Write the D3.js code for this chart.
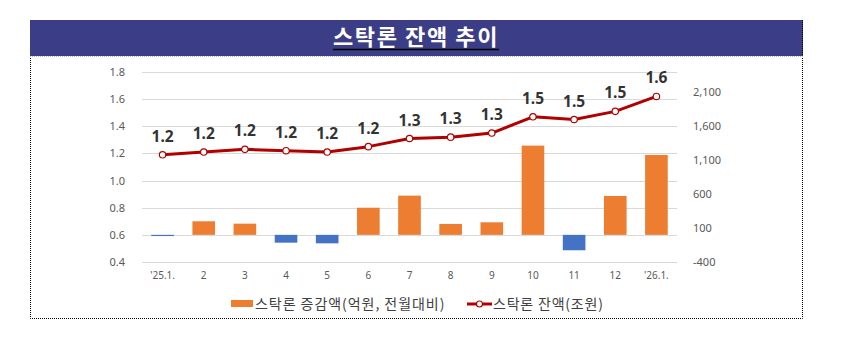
<!DOCTYPE html>
<html><head><meta charset="utf-8">
<script src="https://cdn.jsdelivr.net/npm/d3@7"></script>
<style>
html,body{margin:0;padding:0;background:#fff;}
svg{display:block;font-family:"Noto Sans CJK KR","Noto Sans",sans-serif;}
</style></head>
<body><svg id="c" width="847" height="340"></svg>
<script>
const titleText = "스탁론 잔액 추이";
const categories = ["'25.1.","2","3","4","5","6","7","8","9","10","11","12","'26.1."];
const changeValues = [-15, 200, 165, -115, -125, 400, 578, 161, 185, 1315, -227, 573, 1177];
const balanceValues = [1.19, 1.21, 1.23, 1.22, 1.21, 1.25, 1.31, 1.32, 1.35, 1.47, 1.45, 1.51, 1.62];
const balanceLabels = ["1.2","1.2","1.2","1.2","1.2","1.2","1.3","1.3","1.3","1.5","1.5","1.5","1.6"];
const leftTicks = [0.4, 0.6, 0.8, 1.0, 1.2, 1.4, 1.6, 1.8];
const rightTicks = [-400, 100, 600, 1100, 1600, 2100];
const legendLabels = ["스탁론 증감액(억원, 전월대비)", "스탁론 잔액(조원)"];

const svg = d3.select("#c");
const frame = {x0: 30, x1: 803, top: 20, mid: 56, bottom: 318};

// title bar
svg.append("rect").attr("x", frame.x0).attr("y", frame.top)
  .attr("width", frame.x1 - frame.x0).attr("height", frame.mid - frame.top)
  .attr("fill", "#3B3E86");
const tt = svg.append("text").attr("x", 416).attr("y", 45)
  .attr("text-anchor", "middle").attr("fill", "#fff")
  .attr("font-size", 22).attr("font-weight", "bold").attr("letter-spacing", 1.6).text(titleText);
const tb = tt.node().getBBox();
svg.append("line").attr("x1", tb.x).attr("x2", tb.x + tb.width)
  .attr("y1", 49.5).attr("y2", 49.5).attr("stroke", "#000").attr("stroke-width", 1.6);

// dotted frame
svg.append("path")
  .attr("d", `M${frame.x0+0.5},${frame.mid}V${frame.bottom+0.5}H${frame.x1-0.5}V${frame.top}`)
  .attr("fill", "none").attr("stroke", "#000").attr("stroke-width", 1).attr("stroke-dasharray", "1,1");
svg.append("line").attr("x1", frame.x0).attr("x2", frame.x1).attr("y1", frame.mid+0.5).attr("y2", frame.mid+0.5)
  .attr("stroke", "#bbb").attr("stroke-dasharray", "1,1");

const plot = {left: 142, right: 677, top: 72, bottom: 262};
const x = d3.scaleBand().domain(categories).range([plot.left, plot.right]).paddingInner(0.45).paddingOuter(0.225);
const xc = d => x(d) + x.bandwidth()/2;
const yL = d3.scaleLinear().domain([0.4, 1.8]).range([plot.bottom, plot.top]);
const yR = d3.scaleLinear().domain([-400, 2400]).range([plot.bottom, plot.top]);

// gridlines
svg.append("g").selectAll("line").data(leftTicks).join("line")
  .attr("x1", plot.left).attr("x2", plot.right)
  .attr("y1", d => Math.round(yL(d)) + 0.5).attr("y2", d => Math.round(yL(d)) + 0.5)
  .attr("stroke", "#D9D9D9").attr("stroke-width", 1);

// left axis
const leftAxis = d3.axisLeft(yL).tickValues(leftTicks).tickFormat(d3.format(".1f")).tickSize(0).tickPadding(0);
const gl = svg.append("g").attr("transform", `translate(125,0)`).call(leftAxis);
gl.select(".domain").remove();
gl.selectAll("text").attr("fill", "#595959").attr("font-size", 11).attr("font-family", "'Noto Sans', sans-serif");

// right axis
const loc = d3.formatLocale({decimal: ".", thousands: ",", grouping: [3], currency: ["", ""], minus: "-"});
const rightAxis = d3.axisRight(yR).tickValues(rightTicks).tickFormat(loc.format(",")).tickSize(0).tickPadding(0);
const gr = svg.append("g").attr("transform", `translate(693,0)`).call(rightAxis);
gr.select(".domain").remove();
gr.selectAll("text").attr("fill", "#595959").attr("font-size", 11).attr("font-family", "'Noto Sans', sans-serif");

// x axis
const xAxis = d3.axisBottom(x).tickSize(0).tickPadding(0);
const gx = svg.append("g").attr("transform", `translate(0,272)`).call(xAxis);
gx.select(".domain").remove();
gx.selectAll("text").attr("fill", "#595959").attr("font-size", 10).attr("font-family", "'Noto Sans', sans-serif");

// bars
svg.append("g").selectAll("rect").data(changeValues).join("rect")
  .attr("x", (d, i) => x(categories[i]))
  .attr("width", x.bandwidth())
  .attr("y", d => Math.min(yR(d), yR(0)))
  .attr("height", d => Math.max(1.2, Math.abs(yR(d) - yR(0))))
  .attr("fill", d => d >= 0 ? "#ED7D31" : "#4472C4");

// line
const line = d3.line().x((d, i) => xc(categories[i])).y(d => yL(d));
svg.append("path").datum(balanceValues).attr("d", line)
  .attr("fill", "none").attr("stroke", "#B00000").attr("stroke-width", 3).attr("stroke-linejoin", "round");
svg.append("g").selectAll("circle").data(balanceValues).join("circle")
  .attr("cx", (d, i) => xc(categories[i])).attr("cy", d => yL(d)).attr("r", 3.2)
  .attr("fill", "#fff").attr("stroke", "#B00000").attr("stroke-width", 1.2);

// data labels
svg.append("g").selectAll("text").data(balanceValues).join("text")
  .attr("x", (d, i) => xc(categories[i])).attr("y", d => yL(d) - 13)
  .attr("text-anchor", "middle").attr("font-size", 15.5).attr("font-weight", "bold")
  .attr("fill", "#333").attr("font-family", "'Noto Sans', sans-serif")
  .text((d, i) => balanceLabels[i]);

// legend
const lg = svg.append("g");
lg.append("rect").attr("x", 231).attr("y", 300).attr("width", 22).attr("height", 7).attr("fill", "#ED7D31");
lg.append("text").attr("x", 255).attr("y", 309).attr("font-size", 14).attr("letter-spacing", 0.95)
  .attr("fill", "#404040").text(legendLabels[0]);
lg.append("line").attr("x1", 467).attr("x2", 492).attr("y1", 304).attr("y2", 304)
  .attr("stroke", "#B00000").attr("stroke-width", 3);
lg.append("circle").attr("cx", 479.5).attr("cy", 304).attr("r", 3).attr("fill", "#fff")
  .attr("stroke", "#B00000").attr("stroke-width", 1.2);
lg.append("text").attr("x", 493).attr("y", 309).attr("font-size", 14).attr("letter-spacing", 0.8)
  .attr("fill", "#404040").text(legendLabels[1]);
</script></body></html>
